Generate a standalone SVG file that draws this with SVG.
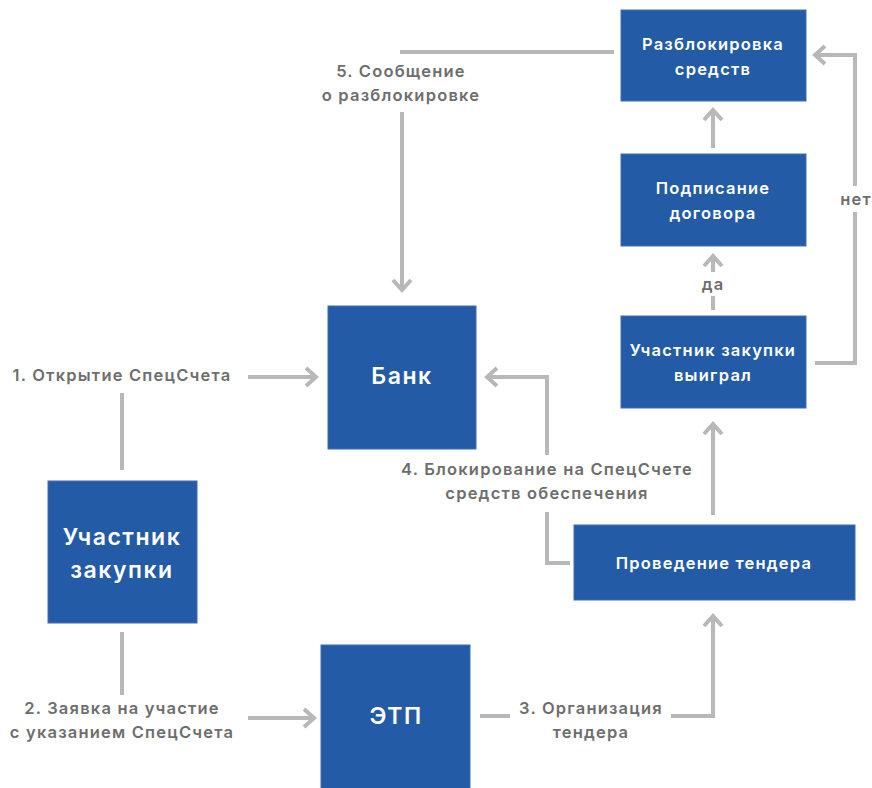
<svg xmlns="http://www.w3.org/2000/svg" width="872" height="788" viewBox="0 0 872 788">
<style>
.box{fill:#245ba7;stroke:#3d6fb8;stroke-width:1}
.bt{fill:#fff;font-family:Inter,"Noto Sans",sans-serif;font-weight:600;font-size:16.5px;letter-spacing:1.2px;text-anchor:middle}
.bb{fill:#fff;font-family:Inter,"Noto Sans",sans-serif;font-weight:600;font-size:23px;letter-spacing:1.5px;text-anchor:middle}
.lb{fill:#6e6e6e;font-family:Inter,"Noto Sans",sans-serif;font-weight:600;font-size:16.5px;letter-spacing:1.2px;text-anchor:middle}
.ln{fill:none;stroke:#b8b8b8;stroke-width:4}
</style>
<defs>
<marker id="ar" viewBox="-14 -12 18 24" markerWidth="18" markerHeight="24" refX="0" refY="0" orient="auto" markerUnits="userSpaceOnUse">
<path d="M-10,-9 L0,0 L-10,9" fill="none" stroke="#b8b8b8" stroke-width="4"/>
</marker>
</defs>
<rect width="872" height="788" fill="#fff"/>
<g id="connectors">
<path class="ln" d="M614,52 H400"/>
<path class="ln" d="M402,112 V290" marker-end="url(#ar)"/>
<path class="ln" d="M815,363 H855 V55 H815" marker-end="url(#ar)"/>
<path class="ln" d="M713,310 V256" marker-end="url(#ar)"/>
<path class="ln" d="M713,148 V110" marker-end="url(#ar)"/>
<path class="ln" d="M122,470 V393"/>
<path class="ln" d="M248,377 H316" marker-end="url(#ar)"/>
<path class="ln" d="M122,632 V695"/>
<path class="ln" d="M248,718 H314" marker-end="url(#ar)"/>
<path class="ln" d="M480,716 H510"/>
<path class="ln" d="M671,716 H713 V616" marker-end="url(#ar)"/>
<path class="ln" d="M713,515 V424" marker-end="url(#ar)"/>
<path class="ln" d="M570,563 H547 V512"/>
<path class="ln" d="M547,455 V377 H487" marker-end="url(#ar)"/>
<rect x="836" y="186" width="38" height="26" fill="#fff"/>
<text class="lb" x="856" y="205">нет</text>
<rect x="695" y="272" width="36" height="24" fill="#fff"/>
<text class="lb" x="713" y="290">да</text>
<text class="lb" x="401" y="77">5. Сообщение</text>
<text class="lb" x="401" y="101">о разблокировке</text>
<text class="lb" x="122" y="381">1. Открытие СпецСчета</text>
<text class="lb" x="122" y="714">2. Заявка на участие</text>
<text class="lb" x="122" y="738">с указанием СпецСчета</text>
<text class="lb" x="591" y="714">3. Организация</text>
<text class="lb" x="591" y="738">тендера</text>
<text class="lb" x="547" y="475">4. Блокирование на СпецСчете</text>
<text class="lb" x="547" y="499">средств обеспечения</text>
</g>
<g id="n-unblock"><rect class="box" x="621" y="10" width="185" height="91"/><text class="bt" x="713" y="50">Разблокировка</text><text class="bt" x="713" y="75">средств</text></g>
<g id="n-sign"><rect class="box" x="621" y="154" width="185" height="92"/><text class="bt" x="713" y="194">Подписание</text><text class="bt" x="713" y="219">договора</text></g>
<g id="n-won"><rect class="box" x="621" y="316" width="185" height="92"/><text class="bt" x="713" y="356">Участник закупки</text><text class="bt" x="713" y="381">выиграл</text></g>
<g id="n-bank"><rect class="box" x="328" y="306" width="148" height="143"/><text class="bb" x="402" y="384">Банк</text></g>
<g id="n-participant"><rect class="box" x="48" y="481" width="149" height="142"/><text class="bb" x="122" y="545">Участник</text><text class="bb" x="122" y="578">закупки</text></g>
<g id="n-tender"><rect class="box" x="574" y="525" width="281" height="75"/><text class="bt" x="714" y="569">Проведение тендера</text></g>
<g id="n-etp"><rect class="box" x="321" y="645" width="149" height="150"/><text class="bb" x="396" y="724">ЭТП</text></g>
</svg>
